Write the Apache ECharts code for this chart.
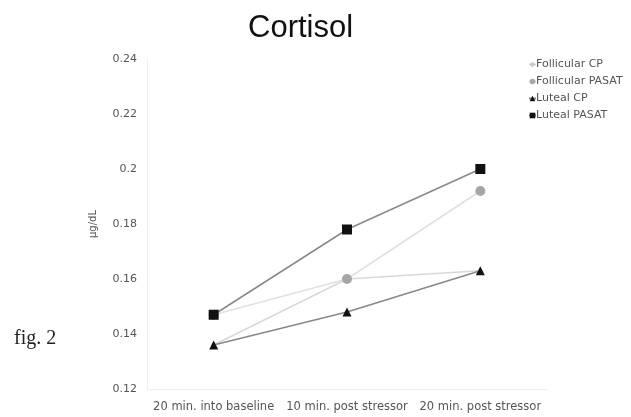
<!DOCTYPE html>
<html>
<head>
<meta charset="utf-8">
<script src="https://cdn.jsdelivr.net/npm/echarts@6/dist/echarts.min.js"></script>
<style>
  html, body { margin: 0; padding: 0; background: #fff; }
  #chart { width: 631px; height: 417px; }
</style>
</head>
<body>
<div id="chart"></div>
<script>
const categories = ['20 min. into baseline', '10 min. post stressor', '20 min. post stressor']
const follicularCP = [0.136, 0.160, 0.163]
const follicularPASAT = [0.147, 0.160, 0.192]
const lutealCP = [0.136, 0.148, 0.163]
const lutealPASAT = [0.147, 0.178, 0.200]

const chart = echarts.init(document.getElementById('chart'))

const labelFont = { fontFamily: 'DejaVu Sans', fontSize: 11, color: '#555' }

chart.setOption({
  animation: false,
  title: {
    text: 'Cortisol',
    left: 243,
    top: 8,
    textStyle: { fontFamily: 'Liberation Sans, Arial', fontSize: 31, fontWeight: 'normal', color: '#111' }
  },
  graphic: [{
    type: 'text',
    left: 14,
    top: 329,
    style: { text: 'fig. 2', font: '20px "Liberation Serif", serif', fill: '#222' }
  }],
  legend: {
    orient: 'vertical',
    left: 523,
    top: 54,
    itemGap: 6,
    itemWidth: 7,
    itemHeight: 7,
    textStyle: Object.assign({}, labelFont, { fontSize: 11, padding: [0, 0, 0, -5] }),
    data: ['Follicular CP', 'Follicular PASAT', 'Luteal CP', 'Luteal PASAT']
  },
  grid: { left: 147, right: 84, top: 59, bottom: 28 },
  xAxis: {
    type: 'category',
    data: categories,
    axisLine: { lineStyle: { color: '#eee' } },
    axisTick: { show: false },
    axisLabel: Object.assign({}, labelFont, { fontSize: 11.5, margin: 12, interval: 0, hideOverlap: false })
  },
  yAxis: {
    type: 'value',
    min: 0.12,
    max: 0.24,
    interval: 0.02,
    name: 'µg/dL',
    nameLocation: 'middle',
    nameGap: 49,
    nameTextStyle: Object.assign({}, labelFont, { fontSize: 10 }),
    axisLine: { show: true, lineStyle: { color: '#f0f0f0' } },
    axisTick: { show: false },
    splitLine: { show: false },
    axisLabel: Object.assign({}, labelFont, { margin: 10, formatter: v => String(+v.toFixed(2)) })
  },
  series: [
    {
      name: 'Follicular CP', type: 'line', data: follicularCP,
      symbol: 'diamond', symbolSize: 6,
      itemStyle: { color: '#c8c8c8' },
      lineStyle: { color: '#d8d8d8', width: 1.5 }
    },
    {
      name: 'Follicular PASAT', type: 'line', data: follicularPASAT,
      symbol: 'circle', symbolSize: 10,
      itemStyle: { color: '#a6a6a6' },
      lineStyle: { color: '#e0e0e0', width: 1.5 }
    },
    {
      name: 'Luteal CP', type: 'line', data: lutealCP,
      symbol: 'triangle', symbolSize: 9,
      itemStyle: { color: '#111' },
      lineStyle: { color: '#888', width: 1.5 }
    },
    {
      name: 'Luteal PASAT', type: 'line', data: lutealPASAT,
      symbol: 'rect', symbolSize: 10,
      itemStyle: { color: '#111' },
      lineStyle: { color: '#888', width: 1.5 }
    }
  ]
})
</script>
</body>
</html>
